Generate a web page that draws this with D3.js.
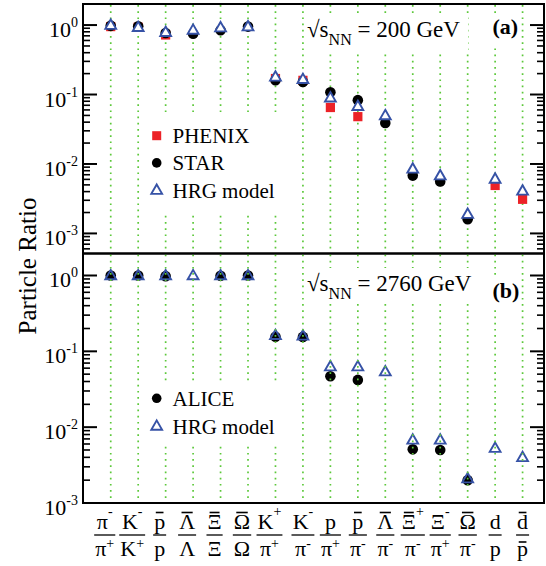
<!DOCTYPE html>
<html>
<head>
<meta charset="utf-8">
<script src="https://cdn.jsdelivr.net/npm/d3@7"></script>
<style>
  body { margin: 0; background: #fff; }
  svg { display: block; }
  text { font-family: "Liberation Serif", "DejaVu Serif", serif; }
</style>
</head>
<body>
<div id="chart"></div>
<script>
// ratio labels (numerator / denominator)
const numer    = ["π", "K", "p", "Λ", "Ξ", "Ω", "K", "K", "p", "p", "Λ", "Ξ", "Ξ", "Ω", "d", "d"];
const numerSup = ["-", "-", "",  "",  "",  "",  "+", "-", "",  "",  "",  "+", "-", "",  "",  ""];
const numerBar = [0, 0, 1, 1, 1, 1, 0, 0, 0, 1, 1, 1, 0, 1, 0, 1];
const denom    = ["π", "K", "p", "Λ", "Ξ", "Ω", "π", "π", "π", "π", "π", "π", "π", "π", "p", "p"];
const denomSup = ["+", "+", "",  "",  "",  "",  "+", "-", "+", "-", "-", "-", "+", "-", "",  ""];
const denomBar = [0, 0, 0, 0, 0, 0, 0, 0, 0, 0, 0, 0, 0, 0, 0, 1];

// panel (a): 200 GeV
const phenixA = [0.95, 0.93, 0.72, null, null, null, 0.17, 0.16, 0.065, 0.048, null, null, null, null, 0.0049, 0.0031];
const starA   = [0.98, 0.96, 0.77, 0.75, 0.84, 0.95, 0.161, 0.152, 0.108, 0.083, 0.039, 0.0068, 0.0056, 0.0016, null, null];
const hrgA    = [1.0, 0.93, 0.79, 0.85, 0.92, 0.95, 0.18, 0.166, 0.09, 0.068, 0.050, 0.0085, 0.0068, 0.0019, 0.0061, 0.0041];

// panel (b): 2760 GeV
const aliceB = [1.0, 1.0, 0.98, null, 0.99, 1.0, 0.156, 0.155, 0.047, 0.042, null, 0.0051, 0.0050, 0.0020, null, null];
const hrgB   = [1.0, 1.0, 1.0, 1.0, 1.0, 1.0, 0.163, 0.160, 0.063, 0.063, 0.054, 0.0068, 0.0068, 0.0021, 0.0053, 0.0040];

const yTicks = [1e-3, 1e-2, 1e-1, 1];
const yTickExp = ["-3", "-2", "-1", "0"];

const width = 546, height = 566;
const left = 83, right = 544;
const red = "#ec2227", blue = "#3652a6", green = "#5cc83a";
const serif = "'Liberation Serif', 'DejaVu Serif', serif";

let svg = d3.select("#chart")
    .append("svg")
    .attr("width", width)
    .attr("height", height)
    .attr("font-family", serif);

let x = d3.scaleLinear()
    .domain([-1.01, 15.78])
    .range([left, right]);

const idx = d3.range(numer.length);

function tri(cx, cy) {
    return `M${cx},${cy - 5.6}L${cx + 5.4},${cy + 3.8}L${cx - 5.4},${cy + 3.8}Z`;
}

function drawPanel(p) {
    let y = d3.scaleLog()
        .domain(p.domain)
        .range([p.bottom, p.top]);

    let g = svg.append("g");
    let gridLayer = g.append("g");
    let boxLayer = g.append("g");
    let markLayer = g.append("g");

    // dotted green verticals
    (p.gridOnTop ? g.append("g") : gridLayer)
        .selectAll("line")
        .data(idx)
        .join("line")
        .attr("x1", i => x(i)).attr("x2", i => x(i))
        .attr("y1", p.top + 1).attr("y2", p.bottom - 1)
        .attr("stroke", green)
        .attr("stroke-width", 1.7)
        .attr("stroke-dasharray", "1.7 4.5");

    let textLayer = g.append("g");

    // white boxes behind legend and captions
    boxLayer = p.gridOnTop ? textLayer : boxLayer;
    for (let b of p.boxes) {
        boxLayer.append("rect")
            .attr("x", b[0]).attr("y", b[1]).attr("width", b[2]).attr("height", b[3])
            .attr("fill", "#fff");
    }

    // data marks
    for (let s of p.series) {
        let pts = idx.filter(i => s.values[i] != null);
        if (s.type === "square") {
            markLayer.selectAll(null).data(pts).join("rect")
                .attr("x", i => x(i) - 4.6).attr("y", i => y(s.values[i]) - 4.6)
                .attr("width", 9.2).attr("height", 9.2)
                .attr("fill", red);
        } else if (s.type === "circle") {
            markLayer.selectAll(null).data(pts).join("circle")
                .attr("cx", i => x(i)).attr("cy", i => y(s.values[i]))
                .attr("r", 5.3)
                .attr("fill", "#000");
        } else {
            markLayer.selectAll(null).data(pts).join("path")
                .attr("d", i => tri(x(i), y(s.values[i])))
                .attr("fill", s.fill)
                .attr("stroke", blue)
                .attr("stroke-width", 1.9);
        }
    }

    // legend
    p.legend.forEach((l, k) => {
        let cy = p.legendY + k * p.legendStep;
        if (l.type === "square") {
            textLayer.append("rect").attr("x", 152.2).attr("y", cy - 4.5).attr("width", 9).attr("height", 9).attr("fill", red);
        } else if (l.type === "circle") {
            textLayer.append("circle").attr("cx", 156.7).attr("cy", cy).attr("r", 4.8).attr("fill", "#000");
        } else {
            textLayer.append("path").attr("d", tri(156.7, cy)).attr("fill", "none")
                .attr("stroke", blue).attr("stroke-width", 1.9);
        }
        textLayer.append("text")
            .attr("x", 172.5).attr("y", cy + 7.5)
            .attr("font-size", 21)
            .text(l.label);
    });

    // energy caption
    let t = textLayer.append("text")
        .attr("x", 307).attr("y", p.energyY)
        .attr("font-size", 23);
    t.append("tspan").text("√s");
    t.append("tspan").attr("font-size", 16).attr("dy", 8).text("NN");
    t.append("tspan").attr("dy", -8).text(" = " + p.energy + " GeV");

    textLayer.append("text")
        .attr("x", 492.5).attr("y", p.tagY)
        .attr("font-size", 22)
        .attr("font-weight", "bold")
        .text(p.tag);

    // frame
    g.append("rect")
        .attr("x", left).attr("y", p.top)
        .attr("width", right - left).attr("height", p.bottom - p.top)
        .attr("fill", "none")
        .attr("stroke", "#000")
        .attr("stroke-width", 2);

    // ticks on both sides
    let minor = [];
    for (let k = -4; k <= 0; k++) {
        for (let m = 2; m <= 9; m++) {
            let v = m * Math.pow(10, k);
            if (v > p.domain[0] && v < p.domain[1]) minor.push(v);
        }
    }
    let ticks = yTicks.filter(v => v >= p.domain[0] && v <= p.domain[1]);
    let tg = g.append("g").attr("stroke", "#000");
    for (let side of [[left, 1], [right, -1]]) {
        tg.append("g").selectAll("line").data(ticks).join("line")
            .attr("x1", side[0]).attr("x2", side[0] + side[1] * 14)
            .attr("y1", d => y(d)).attr("y2", d => y(d))
            .attr("stroke-width", 2);
        tg.append("g").selectAll("line").data(minor).join("line")
            .attr("x1", side[0]).attr("x2", side[0] + side[1] * 7)
            .attr("y1", d => y(d)).attr("y2", d => y(d))
            .attr("stroke-width", 1.6);
    }

    // tick labels 10^n
    ticks.forEach(v => {
        let lab = g.append("text")
            .attr("x", 78).attr("y", y(v) + 12)
            .attr("text-anchor", "end")
            .attr("font-size", 22);
        lab.append("tspan").text("10");
        lab.append("tspan").attr("font-size", 14).attr("dy", -10)
            .text(yTickExp[yTicks.indexOf(v)]);
    });
}

drawPanel({
    top: 4, bottom: 253.5, domain: [5.14e-4, 2.01],
    gridOnTop: false,
    series: [
        { type: "square", values: phenixA },
        { type: "circle", values: starA },
        { type: "triangle", values: hrgA, fill: "#fff" }
    ],
    legend: [
        { type: "square", label: "PHENIX" },
        { type: "circle", label: "STAR" },
        { type: "triangle", label: "HRG model" }
    ],
    legendY: 135.7, legendStep: 27.2,
    boxes: [[145, 114, 145, 98], [304, 14, 164, 36], [489, 14, 32, 30]],
    energy: "200", energyY: 37.3,
    tag: "(a)", tagY: 34
});

drawPanel({
    top: 253.5, bottom: 503, domain: [1e-3, 1.95],
    gridOnTop: true,
    series: [
        { type: "circle", values: aliceB },
        { type: "triangle", values: hrgB, fill: "none" }
    ],
    legend: [
        { type: "circle", label: "ALICE" },
        { type: "triangle", label: "HRG model" }
    ],
    legendY: 398.3, legendStep: 27.7,
    boxes: [[145, 382, 145, 64], [304, 268, 176, 32], [489, 278, 32, 28]],
    energy: "2760", energyY: 290.7,
    tag: "(b)", tagY: 297.5
});

// y title
svg.append("text")
    .attr("transform", "translate(36,266) rotate(-90)")
    .attr("text-anchor", "middle")
    .attr("font-size", 25)
    .text("Particle Ratio");

// x-axis ratio labels
let lab = svg.append("g").attr("font-size", 22);
idx.forEach(i => {
    let cx = x(i) + (i < 7 ? -6 : 0);
    let parts = [
        { base: numer[i], sup: numerSup[i], bar: numerBar[i], yb: 529, sdy: -13, barUp: 16.5 },
        { base: denom[i], sup: denomSup[i], bar: denomBar[i], yb: 556, sdy: -8, barUp: 14 }
    ];
    let w = 0;
    for (let pt of parts) {
        let t = lab.append("text")
            .attr("x", cx).attr("y", pt.yb)
            .attr("text-anchor", "middle");
        t.append("tspan").text(pt.base);
        if (pt.sup) {
            t.append("tspan").attr("font-size", 14).attr("dy", pt.sdy).text(pt.sup);
        }
        let bb = t.node().getBBox();
        w = Math.max(w, bb.width);
        if (pt.bar) {
            let ext = t.node().getExtentOfChar(0);
            lab.append("line")
                .attr("x1", ext.x + ext.width * 0.15).attr("x2", ext.x + ext.width * 0.85)
                .attr("y1", pt.yb - pt.barUp).attr("y2", pt.yb - pt.barUp)
                .attr("stroke", "#000").attr("stroke-width", 1.6);
        }
    }
    lab.append("line")
        .attr("x1", cx - w / 2 - 1).attr("x2", cx + w / 2 + 1)
        .attr("y1", 535).attr("y2", 535)
        .attr("stroke", "#000").attr("stroke-width", 1.3);
});
</script>
</body>
</html>
